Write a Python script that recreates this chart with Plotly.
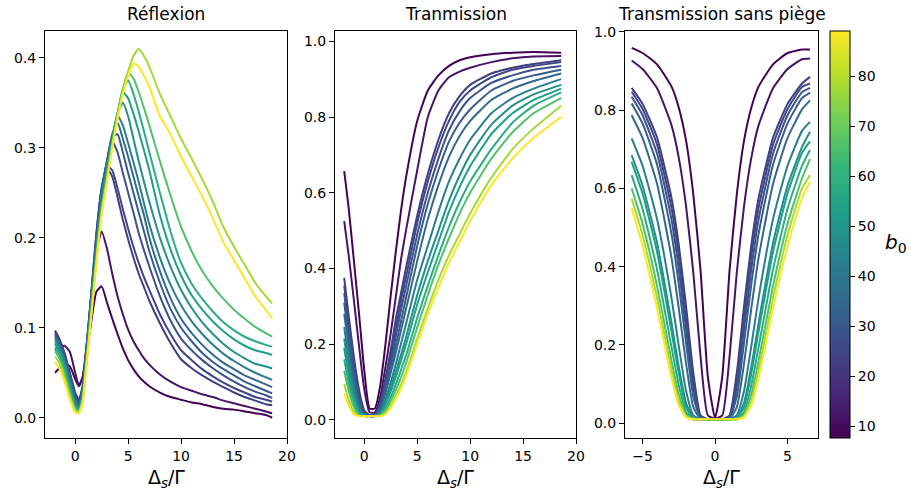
import plotly.graph_objects as go
from plotly.colors import sample_colorscale

# ---------------- data ----------------
b0 = [8, 12, 23, 25, 28, 31, 35, 42, 48, 53, 58, 66, 78, 89]
b0_min, b0_max = 7.66, 89.06

# Reflexion panel
x_refl = [-1.9, -1.5, -1, -0.5, 0, 0.35, 0.7, 1, 1.5, 2, 2.5, 3, 3.5, 4, 4.5, 5, 5.5, 6, 6.5, 7,
          8, 9, 10, 11, 12, 13, 14, 15, 16, 17, 18, 18.6]
R01 = [0.05, 0.055, 0.06, 0.057, 0.043, 0.035, 0.045, 0.065, 0.105, 0.14, 0.146, 0.128, 0.11, 0.093, 0.077, 0.064, 0.054, 0.046, 0.04, 0.035, 0.028, 0.023, 0.02, 0.017, 0.015, 0.012, 0.01, 0.009, 0.007, 0.005, 0.003, 0.0]
R02 = [0.075, 0.078, 0.08, 0.073, 0.05, 0.036, 0.045, 0.072, 0.125, 0.185, 0.207, 0.188, 0.16, 0.135, 0.115, 0.098, 0.085, 0.075, 0.066, 0.059, 0.048, 0.04, 0.034, 0.03, 0.026, 0.023, 0.019, 0.016, 0.013, 0.01, 0.007, 0.005]
R03 = [0.097, 0.088, 0.072, 0.05, 0.028, 0.02, 0.035, 0.07, 0.135, 0.205, 0.255, 0.277, 0.268, 0.245, 0.22, 0.198, 0.178, 0.16, 0.145, 0.13, 0.105, 0.083, 0.065, 0.055, 0.047, 0.04, 0.034, 0.028, 0.023, 0.019, 0.015, 0.014]
R04 = [0.096, 0.087, 0.071, 0.049, 0.026, 0.018, 0.034, 0.07, 0.135, 0.203, 0.255, 0.28, 0.275, 0.255, 0.232, 0.21, 0.19, 0.172, 0.156, 0.142, 0.115, 0.093, 0.075, 0.064, 0.054, 0.046, 0.039, 0.033, 0.028, 0.023, 0.02, 0.018]
R05 = [0.094, 0.085, 0.069, 0.047, 0.024, 0.016, 0.032, 0.068, 0.133, 0.2, 0.252, 0.285, 0.307, 0.295, 0.272, 0.25, 0.228, 0.205, 0.186, 0.168, 0.135, 0.108, 0.088, 0.075, 0.064, 0.055, 0.047, 0.04, 0.034, 0.029, 0.025, 0.022]
R06 = [0.092, 0.083, 0.067, 0.045, 0.022, 0.014, 0.03, 0.066, 0.13, 0.197, 0.25, 0.285, 0.312, 0.315, 0.295, 0.272, 0.25, 0.228, 0.207, 0.185, 0.15, 0.121, 0.1, 0.085, 0.072, 0.062, 0.054, 0.047, 0.04, 0.035, 0.03, 0.027]
R07 = [0.09, 0.081, 0.065, 0.043, 0.02, 0.013, 0.029, 0.064, 0.128, 0.194, 0.248, 0.285, 0.315, 0.328, 0.31, 0.29, 0.268, 0.246, 0.225, 0.2, 0.163, 0.133, 0.11, 0.094, 0.081, 0.07, 0.061, 0.054, 0.047, 0.042, 0.037, 0.034]
R08 = [0.088, 0.079, 0.062, 0.04, 0.018, 0.012, 0.027, 0.062, 0.125, 0.19, 0.245, 0.28, 0.312, 0.336, 0.325, 0.305, 0.284, 0.262, 0.238, 0.215, 0.178, 0.148, 0.125, 0.107, 0.093, 0.081, 0.071, 0.063, 0.056, 0.05, 0.045, 0.042]
R09 = [0.085, 0.076, 0.059, 0.037, 0.016, 0.01, 0.025, 0.06, 0.122, 0.186, 0.24, 0.275, 0.31, 0.338, 0.35, 0.335, 0.31, 0.285, 0.262, 0.24, 0.2, 0.168, 0.142, 0.122, 0.106, 0.093, 0.082, 0.073, 0.066, 0.06, 0.057, 0.055]
R10 = [0.082, 0.073, 0.056, 0.034, 0.014, 0.009, 0.023, 0.058, 0.12, 0.183, 0.237, 0.272, 0.308, 0.338, 0.362, 0.355, 0.338, 0.318, 0.297, 0.275, 0.225, 0.187, 0.158, 0.136, 0.12, 0.107, 0.096, 0.087, 0.08, 0.075, 0.072, 0.07]
R11 = [0.078, 0.07, 0.053, 0.031, 0.012, 0.008, 0.021, 0.056, 0.118, 0.18, 0.234, 0.27, 0.306, 0.338, 0.365, 0.375, 0.36, 0.34, 0.318, 0.295, 0.25, 0.207, 0.172, 0.149, 0.132, 0.118, 0.106, 0.097, 0.09, 0.085, 0.081, 0.079]
R12 = [0.074, 0.066, 0.05, 0.028, 0.01, 0.007, 0.02, 0.054, 0.115, 0.177, 0.231, 0.268, 0.305, 0.337, 0.365, 0.384, 0.377, 0.362, 0.344, 0.325, 0.285, 0.247, 0.212, 0.185, 0.163, 0.146, 0.132, 0.12, 0.11, 0.101, 0.094, 0.09]
R13 = [0.068, 0.061, 0.045, 0.024, 0.008, 0.006, 0.018, 0.052, 0.112, 0.174, 0.228, 0.265, 0.302, 0.335, 0.362, 0.385, 0.402, 0.41, 0.402, 0.39, 0.36, 0.335, 0.31, 0.288, 0.265, 0.24, 0.212, 0.19, 0.17, 0.15, 0.135, 0.127]
R14 = [0.062, 0.055, 0.04, 0.02, 0.006, 0.005, 0.017, 0.05, 0.11, 0.172, 0.226, 0.263, 0.3, 0.332, 0.36, 0.38, 0.394, 0.39, 0.38, 0.368, 0.335, 0.315, 0.29, 0.268, 0.246, 0.222, 0.195, 0.175, 0.155, 0.135, 0.12, 0.11]

# Transmission panel
x_trans = [-1.9, -1.5, -1, -0.5, 0, 0.5, 1, 1.5, 2, 2.5, 3, 3.5, 4, 5, 6, 7, 8, 9, 10, 12, 14, 16, 18.6]
T01 = [0.657, 0.565, 0.425, 0.28, 0.13, 0.03, 0.03, 0.09, 0.2, 0.33, 0.45, 0.56, 0.65, 0.79, 0.87, 0.91, 0.935, 0.95, 0.958, 0.966, 0.97, 0.972, 0.97]
T02 = [0.525, 0.44, 0.32, 0.195, 0.08, 0.02, 0.02, 0.06, 0.14, 0.23, 0.33, 0.43, 0.51, 0.66, 0.80, 0.87, 0.905, 0.92, 0.93, 0.945, 0.955, 0.96, 0.961]
T03 = [0.375, 0.28, 0.17, 0.08, 0.025, 0.012, 0.015, 0.045, 0.11, 0.185, 0.27, 0.34, 0.41, 0.54, 0.65, 0.74, 0.81, 0.855, 0.885, 0.915, 0.93, 0.94, 0.95]
T04 = [0.355, 0.26, 0.155, 0.07, 0.022, 0.012, 0.014, 0.04, 0.1, 0.17, 0.245, 0.32, 0.385, 0.52, 0.63, 0.72, 0.79, 0.84, 0.87, 0.905, 0.925, 0.935, 0.945]
T05 = [0.335, 0.24, 0.14, 0.06, 0.02, 0.011, 0.013, 0.035, 0.09, 0.155, 0.225, 0.295, 0.36, 0.49, 0.60, 0.69, 0.765, 0.815, 0.85, 0.89, 0.91, 0.925, 0.935]
T06 = [0.31, 0.22, 0.125, 0.05, 0.017, 0.01, 0.012, 0.03, 0.08, 0.14, 0.2, 0.265, 0.33, 0.46, 0.57, 0.66, 0.735, 0.785, 0.82, 0.87, 0.895, 0.91, 0.925]
T07 = [0.28, 0.195, 0.105, 0.04, 0.014, 0.01, 0.011, 0.025, 0.07, 0.125, 0.18, 0.24, 0.3, 0.42, 0.53, 0.62, 0.695, 0.75, 0.79, 0.845, 0.875, 0.895, 0.915]
T08 = [0.245, 0.165, 0.085, 0.03, 0.012, 0.01, 0.01, 0.02, 0.055, 0.1, 0.15, 0.205, 0.26, 0.37, 0.46, 0.55, 0.63, 0.69, 0.74, 0.81, 0.85, 0.875, 0.9]
T09 = [0.215, 0.14, 0.07, 0.025, 0.011, 0.01, 0.01, 0.017, 0.045, 0.085, 0.13, 0.175, 0.225, 0.33, 0.42, 0.5, 0.58, 0.645, 0.7, 0.78, 0.83, 0.86, 0.885]
T10 = [0.19, 0.12, 0.06, 0.02, 0.01, 0.01, 0.01, 0.015, 0.04, 0.075, 0.115, 0.16, 0.205, 0.305, 0.39, 0.47, 0.55, 0.615, 0.67, 0.755, 0.81, 0.845, 0.875]
T11 = [0.16, 0.1, 0.045, 0.016, 0.01, 0.01, 0.01, 0.013, 0.03, 0.06, 0.095, 0.135, 0.175, 0.27, 0.355, 0.435, 0.51, 0.575, 0.63, 0.715, 0.785, 0.83, 0.865]
T12 = [0.13, 0.08, 0.035, 0.013, 0.01, 0.01, 0.01, 0.012, 0.025, 0.05, 0.08, 0.115, 0.155, 0.245, 0.33, 0.41, 0.48, 0.545, 0.6, 0.69, 0.76, 0.81, 0.85]
T13 = [0.095, 0.055, 0.022, 0.01, 0.01, 0.01, 0.01, 0.01, 0.018, 0.038, 0.065, 0.095, 0.13, 0.215, 0.295, 0.37, 0.435, 0.49, 0.545, 0.64, 0.715, 0.77, 0.83]
T14 = [0.07, 0.04, 0.015, 0.01, 0.01, 0.01, 0.01, 0.01, 0.015, 0.032, 0.057, 0.085, 0.12, 0.2, 0.28, 0.35, 0.415, 0.47, 0.525, 0.62, 0.69, 0.745, 0.80]

# Transmission sans piege panel
x_free = [-5.75, -5, -4, -3, -2.5, -2, -1.5, -1, -0.5, 0, 0.5, 1, 1.5, 2, 2.5, 3, 4, 5, 6, 6.55]
S01 = [0.959, 0.946, 0.917, 0.86, 0.806, 0.722, 0.585, 0.39, 0.12, 0.013, 0.12, 0.39, 0.585, 0.722, 0.806, 0.86, 0.917, 0.946, 0.955, 0.955]
S02 = [0.927, 0.905, 0.856, 0.761, 0.678, 0.555, 0.385, 0.17, 0.02, 0.012, 0.02, 0.17, 0.385, 0.555, 0.678, 0.761, 0.856, 0.905, 0.93, 0.932]
S03 = [0.857, 0.816, 0.730, 0.575, 0.455, 0.299, 0.129, 0.02, 0.01, 0.01, 0.01, 0.02, 0.129, 0.299, 0.455, 0.575, 0.730, 0.816, 0.868, 0.885]
S04 = [0.847, 0.803, 0.712, 0.550, 0.427, 0.273, 0.110, 0.018, 0.01, 0.01, 0.01, 0.018, 0.110, 0.273, 0.427, 0.550, 0.712, 0.803, 0.859, 0.868]
S05 = [0.834, 0.787, 0.689, 0.520, 0.394, 0.241, 0.089, 0.015, 0.01, 0.01, 0.01, 0.015, 0.089, 0.241, 0.394, 0.520, 0.689, 0.787, 0.846, 0.857]
S06 = [0.817, 0.766, 0.661, 0.483, 0.355, 0.206, 0.068, 0.013, 0.01, 0.01, 0.01, 0.013, 0.068, 0.206, 0.355, 0.483, 0.661, 0.766, 0.831, 0.845]
S07 = [0.787, 0.729, 0.612, 0.422, 0.293, 0.153, 0.041, 0.011, 0.01, 0.01, 0.01, 0.011, 0.041, 0.153, 0.293, 0.422, 0.612, 0.729, 0.802, 0.825]
S08 = [0.728, 0.658, 0.522, 0.319, 0.197, 0.083, 0.02, 0.01, 0.01, 0.01, 0.01, 0.01, 0.02, 0.083, 0.197, 0.319, 0.522, 0.658, 0.747, 0.77]
S09 = [0.685, 0.607, 0.461, 0.256, 0.144, 0.052, 0.012, 0.01, 0.01, 0.01, 0.01, 0.01, 0.012, 0.052, 0.144, 0.256, 0.461, 0.607, 0.706, 0.745]
S10 = [0.668, 0.587, 0.438, 0.234, 0.127, 0.042, 0.011, 0.01, 0.01, 0.01, 0.01, 0.01, 0.011, 0.042, 0.127, 0.234, 0.438, 0.587, 0.691, 0.72]
S11 = [0.634, 0.548, 0.393, 0.194, 0.097, 0.028, 0.01, 0.01, 0.01, 0.01, 0.01, 0.01, 0.01, 0.028, 0.097, 0.194, 0.393, 0.548, 0.658, 0.698]
S12 = [0.60, 0.510, 0.351, 0.159, 0.073, 0.022, 0.01, 0.01, 0.01, 0.01, 0.01, 0.01, 0.01, 0.022, 0.073, 0.159, 0.351, 0.510, 0.626, 0.675]
S13 = [0.574, 0.481, 0.320, 0.135, 0.058, 0.018, 0.01, 0.01, 0.01, 0.01, 0.01, 0.01, 0.01, 0.018, 0.058, 0.135, 0.320, 0.481, 0.60, 0.634]
S14 = [0.549, 0.453, 0.293, 0.115, 0.046, 0.015, 0.01, 0.01, 0.01, 0.01, 0.01, 0.01, 0.01, 0.015, 0.046, 0.115, 0.293, 0.453, 0.576, 0.617]

cbar_ticks = [10, 20, 30, 40, 50, 60, 70, 80]
titles = ["Réflexion", "Tranmission", "Transmission sans piège"]
xlabel = "Δ<sub><i>s</i></sub>/Γ"

refl_series = [R01, R02, R03, R04, R05, R06, R07, R08, R09, R10, R11, R12, R13, R14]
trans_series = [T01, T02, T03, T04, T05, T06, T07, T08, T09, T10, T11, T12, T13, T14]
free_series = [S01, S02, S03, S04, S05, S06, S07, S08, S09, S10, S11, S12, S13, S14]

# ---------------- figure ----------------
W, H = 909, 496
colors = sample_colorscale("Viridis", [(b - b0_min) / (b0_max - b0_min) for b in b0])

fig = go.Figure()
for i, b in enumerate(b0):
    c = colors[i]
    ln = dict(color=c, width=2, shape="spline", smoothing=0.5)
    fig.add_trace(go.Scatter(x=x_refl, y=refl_series[i], mode="lines",
                             line=ln, xaxis="x", yaxis="y"))
    fig.add_trace(go.Scatter(x=x_trans, y=trans_series[i], mode="lines",
                             line=ln, xaxis="x2", yaxis="y2"))
    fig.add_trace(go.Scatter(x=x_free, y=free_series[i], mode="lines",
                             line=ln, xaxis="x3", yaxis="y3"))

# colorbar carrier
fig.add_trace(go.Scatter(
    x=[None] * len(b0), y=[None] * len(b0), mode="markers", xaxis="x3", yaxis="y3",
    marker=dict(color=b0, colorscale="Viridis", cmin=b0_min, cmax=b0_max, showscale=True,
                colorbar=dict(x=830 / W, xanchor="left", xpad=0, ypad=0,
                              y=1 - (30.7 + 437.7) / 2 / H, yanchor="middle",
                              len=407 / H, lenmode="fraction", thickness=20,
                              outlinewidth=1, outlinecolor="black",
                              tickvals=cbar_ticks, ticks="outside", ticklen=5,
                              tickwidth=1, tickcolor="black",
                              tickfont=dict(size=14, color="black", family="DejaVu Sans"))),
    showlegend=False, hoverinfo="skip"))

def px_x(a, b):
    return [a / W, b / W]

ydom = [1 - 437.7 / H, 1 - 30.7 / H]
axis_common = dict(showline=True, linecolor="black", linewidth=1, mirror=True,
                   ticks="outside", ticklen=5, tickwidth=1, tickcolor="black",
                   showgrid=False, zeroline=False,
                   tickfont=dict(size=14, color="black", family="DejaVu Sans"))

fig.update_layout(
    width=W, height=H, margin=dict(l=0, r=0, t=0, b=0, autoexpand=False),
    paper_bgcolor="white", plot_bgcolor="white", showlegend=False,
    font=dict(family="DejaVu Sans", color="black"),
    xaxis=dict(domain=px_x(45, 287), range=[-2.85, 20], tickvals=[0, 5, 10, 15, 20],
               anchor="y", **axis_common),
    yaxis=dict(domain=ydom, range=[-0.0222, 0.4301], tickvals=[0, 0.1, 0.2, 0.3, 0.4],
               tickformat=".1f", anchor="x", **axis_common),
    xaxis2=dict(domain=px_x(335, 576), range=[-2.77, 20], tickvals=[0, 5, 10, 15, 20],
                anchor="y2", **axis_common),
    yaxis2=dict(domain=ydom, range=[-0.047, 1.028], tickvals=[0, 0.2, 0.4, 0.6, 0.8, 1.0],
                tickformat=".1f", anchor="x2", **axis_common),
    xaxis3=dict(domain=px_x(625, 818), range=[-6.21, 7.10], tickvals=[-5, 0, 5],
                anchor="y3", **axis_common),
    yaxis3=dict(domain=ydom, range=[-0.037, 1.003], tickvals=[0, 0.2, 0.4, 0.6, 0.8, 1.0],
                tickformat=".1f", anchor="x3", **axis_common),
)

centers = [(45 + 287) / 2, (335 + 576) / 2, (625 + 818) / 2]
annotations = []
for cx, t in zip(centers, titles):
    annotations.append(dict(text=t, x=cx / W, y=1 - 14 / H, xref="paper", yref="paper",
                            showarrow=False, xanchor="center", yanchor="middle",
                            font=dict(size=17, color="black", family="DejaVu Sans")))
    annotations.append(dict(text=xlabel, x=cx / W, y=1 - 478 / H, xref="paper", yref="paper",
                            showarrow=False, xanchor="center", yanchor="middle",
                            font=dict(size=19, color="black", family="DejaVu Sans")))
annotations.append(dict(text="<i>b</i><sub>0</sub>", x=896 / W, y=1 - 243 / H,
                        xref="paper", yref="paper", showarrow=False,
                        xanchor="center", yanchor="middle",
                        font=dict(size=20, color="black", family="DejaVu Sans")))
fig.update_layout(annotations=annotations)

fig.write_html("out.html", config={"displayModeBar": False},
               post_script="document.body.style.margin='0px';document.body.style.padding='0px';")
